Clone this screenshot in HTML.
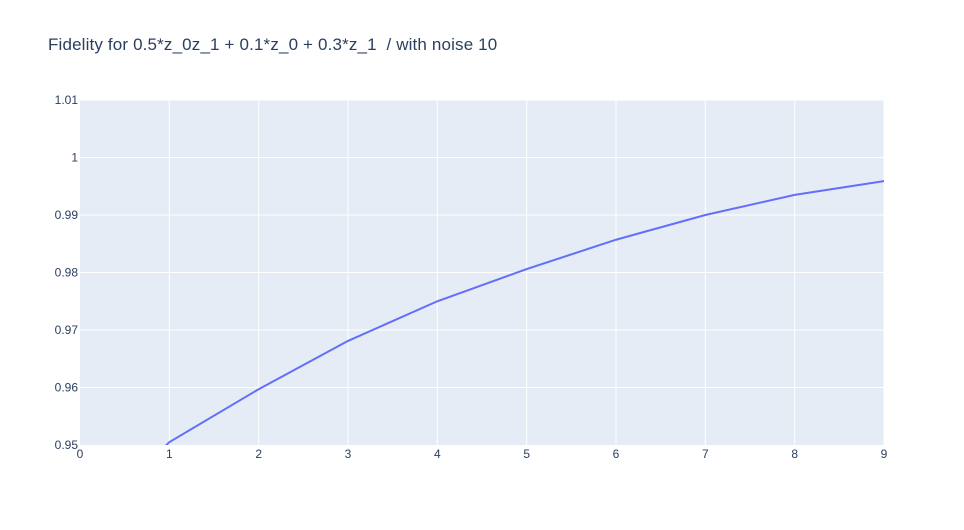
<!DOCTYPE html>
<html><head><meta charset="utf-8"><style>
body{margin:0;background:#fff;font-family:"Open Sans","Liberation Sans",sans-serif;}
</style></head><body>
<svg id="chart" width="964" height="525" xmlns="http://www.w3.org/2000/svg">
<rect width="964" height="525" fill="#fff"/>
<text x="48" y="50" font-size="17" fill="#2a3f5f" font-family="Liberation Sans, sans-serif" style="white-space:pre" letter-spacing="0.15">Fidelity for 0.5*z_0z_1 + 0.1*z_0 + 0.3*z_1  / with noise 10</text>
<defs><clipPath id="plotclip"><rect x="80" y="100" width="804" height="345"/></clipPath></defs>
<rect x="80" y="100" width="804" height="345" fill="#e5ecf6"/>
<g id="grid"></g>
<g id="series" clip-path="url(#plotclip)"></g>
<g id="ticks" font-size="12" fill="#2a3f5f" font-family="Liberation Sans, sans-serif"></g>
</svg>
<script>
const xValues = [0,1,2,3,4,5,6,7,8,9];
const fidelity = [0.935,0.9505,0.9597,0.9681,0.9750,0.9806,0.9857,0.9900,0.9935,0.9959];
const xTicks = [0,1,2,3,4,5,6,7,8,9];
const yTicks = [0.95,0.96,0.97,0.98,0.99,1,1.01];
const yTickLabels = ["0.95","0.96","0.97","0.98","0.99","1","1.01"];

const L=80,R=884,T=100,B=445,xMin=0,xMax=9,yMin=0.95,yMax=1.01;
const sx=v=>L+(v-xMin)/(xMax-xMin)*(R-L);
const sy=v=>B-(v-yMin)/(yMax-yMin)*(B-T);
const NS="http://www.w3.org/2000/svg";
const grid=document.getElementById('grid'),ticks=document.getElementById('ticks'),series=document.getElementById('series');
xTicks.forEach(t=>{
  if(t!==xMin){const l=document.createElementNS(NS,'line');
  l.setAttribute('x1',sx(t));l.setAttribute('x2',sx(t));l.setAttribute('y1',T);l.setAttribute('y2',B);
  l.setAttribute('stroke','#fff');l.setAttribute('stroke-width','1');
  
  
  grid.appendChild(l);}
  const tx=document.createElementNS(NS,'text');
  tx.setAttribute('x',sx(t));tx.setAttribute('y',B+13);tx.setAttribute('text-anchor','middle');
  tx.textContent=t;
  
  
  ticks.appendChild(tx);
});
yTicks.forEach((t,i)=>{
  if(t!==yMin){const l=document.createElementNS(NS,'line');
  l.setAttribute('x1',L);l.setAttribute('x2',R);l.setAttribute('y1',sy(t));l.setAttribute('y2',sy(t));
  l.setAttribute('stroke','#fff');l.setAttribute('stroke-width','1');
  
  
  grid.appendChild(l);}
  const tx=document.createElementNS(NS,'text');
  tx.setAttribute('x',L-2);tx.setAttribute('y',sy(t)+4);tx.setAttribute('text-anchor','end');
  tx.textContent=yTickLabels[i];
  
  
  ticks.appendChild(tx);
});
const p=document.createElementNS(NS,'path');
p.setAttribute('d',xValues.map((x,i)=>(i?'L':'M')+sx(x)+','+sy(fidelity[i])).join(' '));
p.setAttribute('fill','none');p.setAttribute('stroke','#636efa');p.setAttribute('stroke-width','2');


series.appendChild(p);
</script>
</body></html>
